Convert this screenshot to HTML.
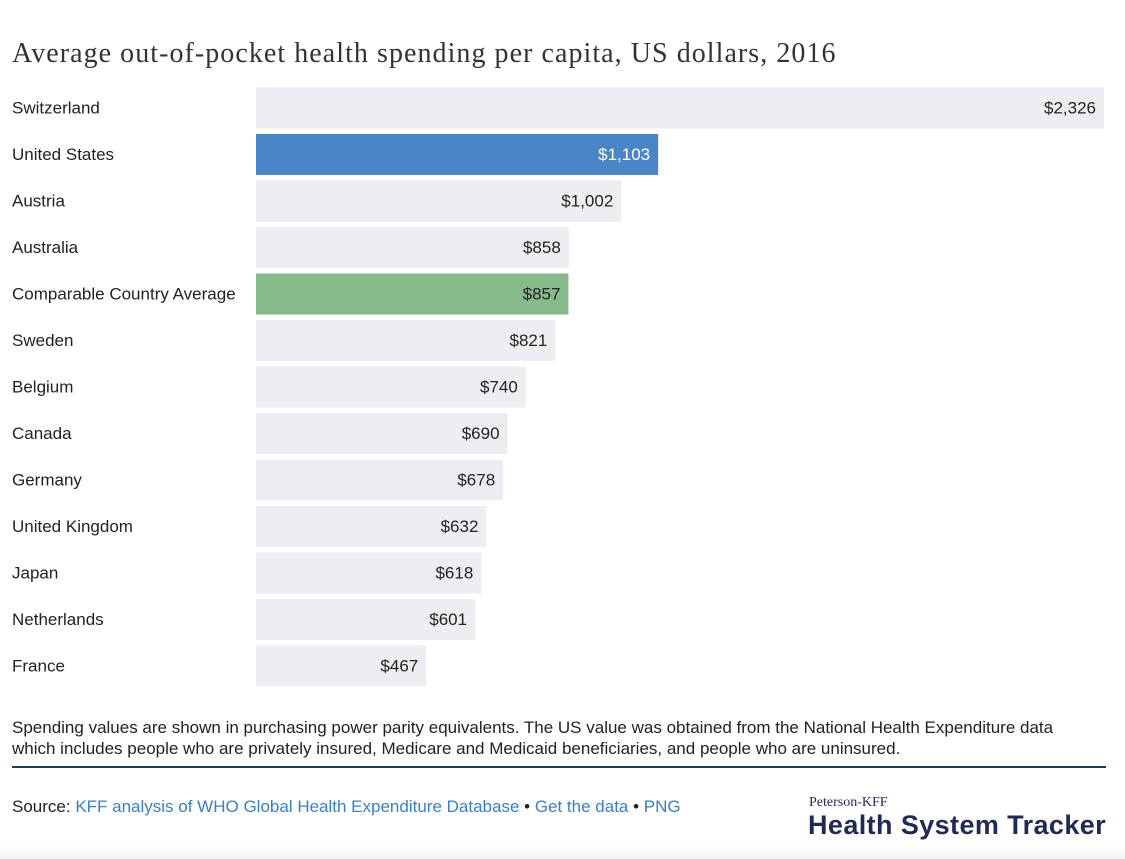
<!DOCTYPE html>
<html><head><meta charset="utf-8"><style>
body{margin:0;width:1125px;height:859px;background:#fff;font-family:"Liberation Sans",sans-serif;color:#222;overflow:hidden;position:relative}
#title{position:absolute;left:12px;top:38px;font-family:"Liberation Serif",serif;font-size:28px;letter-spacing:1.05px;color:#333;white-space:nowrap}
svg{position:absolute;left:0;top:0}
.note{position:absolute;left:12px;top:717px;font-size:17px;line-height:21px;color:#222;white-space:nowrap}
.rule{position:absolute;left:12px;top:766px;width:1094px;height:2px;background:#1f3a60}
.src{position:absolute;left:12px;top:797px;font-size:17px;color:#222;white-space:nowrap}
.src a{color:#3a7fc4;text-decoration:none}
.logo1{position:absolute;left:809px;top:795px;font-family:"Liberation Serif",serif;font-size:14px;color:#1f2a55}
.logo2{position:absolute;left:808px;top:810px;font-size:27px;font-weight:bold;color:#1f2a55;letter-spacing:0.4px;white-space:nowrap}
.bot{position:absolute;left:0;top:845px;width:1125px;height:14px;background:linear-gradient(#fff,#f2f2f2)}
</style></head><body>
<div id="title">Average out-of-pocket health spending per capita, US dollars, 2016</div>
<svg id="chart" width="1125" height="700"></svg>
<div class="note">Spending values are shown in purchasing power parity equivalents. The US value was obtained from the National Health Expenditure data<br>which includes people who are privately insured, Medicare and Medicaid beneficiaries, and people who are uninsured.</div>
<div class="rule"></div>
<div class="src">Source: <a>KFF analysis of WHO Global Health Expenditure Database</a> • <a>Get the data</a> • <a>PNG</a></div>
<div class="logo1">Peterson-KFF</div>
<div class="logo2">Health System Tracker</div>
<div class="bot"></div>
<script>
const categories=["Switzerland","United States","Austria","Australia","Comparable Country Average","Sweden","Belgium","Canada","Germany","United Kingdom","Japan","Netherlands","France"];
const values=[2326,1103,1002,858,857,821,740,690,678,632,618,601,467];
const highlight={"United States":"#4a86c5","Comparable Country Average":"#87ba8a"};
const svg=document.getElementById('chart');
const NS='http://www.w3.org/2000/svg';
const x0=256,x1=1104,maxV=Math.max(...values);
const xs=v=>(v/maxV)*(x1-x0);
const ys=i=>87.5+i*46.5;
const fmt=v=>'$'+v.toLocaleString('en-US');
categories.forEach((c,i)=>{
  const y=ys(i);
  const lab=document.createElementNS(NS,'text');
  
  
  lab.setAttribute('x',12);lab.setAttribute('y',y+26);
  lab.setAttribute('font-size','17');lab.setAttribute('fill','#222');
  lab.textContent=c;svg.appendChild(lab);
  const r=document.createElementNS(NS,'rect');
  
  
  r.setAttribute('x',x0);r.setAttribute('y',y);r.setAttribute('width',xs(values[i]));r.setAttribute('height',41);
  r.setAttribute('fill',highlight[c]||'#eceef1');svg.appendChild(r);
  const t=document.createElementNS(NS,'text');
  
  
  t.setAttribute('x',x0+xs(values[i])-8);t.setAttribute('y',y+26);
  t.setAttribute('text-anchor','end');t.setAttribute('font-size','17');
  t.setAttribute('fill',c==="United States"?'#fff':'#222');
  t.textContent=fmt(values[i]);svg.appendChild(t);
});
</script>
</body></html>
